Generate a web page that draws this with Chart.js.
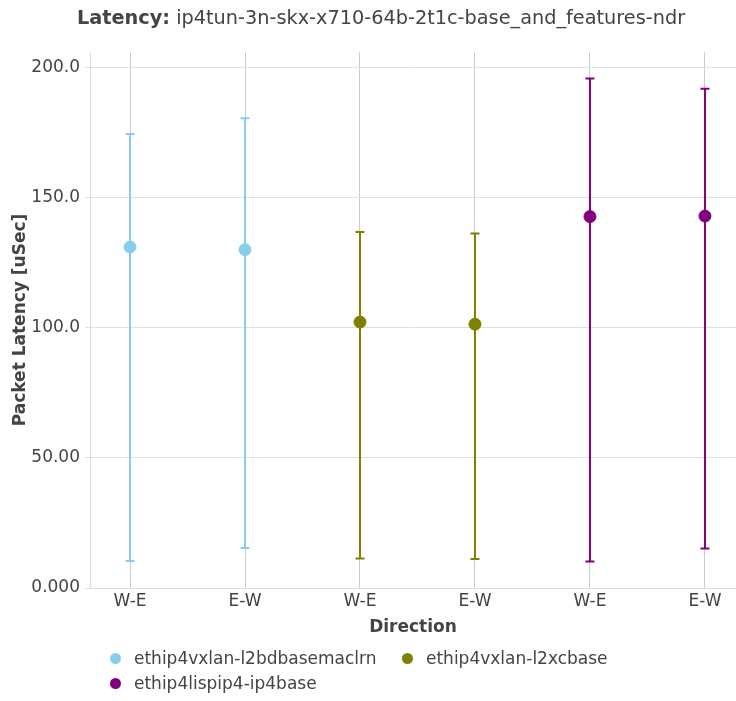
<!DOCTYPE html>
<html>
<head>
<meta charset="utf-8">
<script src="https://cdn.jsdelivr.net/npm/chart.js@4.4.1/dist/chart.umd.min.js"></script>
<style>
  body { margin: 0; background: #fff; font-family: "DejaVu Sans", sans-serif; color: #444; }
  #wrap { position: relative; width: 736px; height: 701px; }
  #chart { position: absolute; left: 0; top: 0; }
  #title { position: absolute; left: 77px; top: 6px; font-size: 19.3px; white-space: nowrap; }
  #legend { position: absolute; left: 110px; top: 648px; width: 620px; font-size: 17px; }
  .item { position: absolute; white-space: nowrap; }
  .dot { display: inline-block; width: 11px; height: 11px; border-radius: 50%; vertical-align: 0px; margin-right: 13px; }
</style>
</head>
<body>
<div id="wrap">
  <canvas id="chart" width="736" height="701"></canvas>
  <div id="title"><b>Latency:</b> ip4tun-3n-skx-x710-64b-2t1c-base_and_features-ndr</div>
  <div id="legend"></div>
</div>
<script>
// categories / ticks
const directions = ['W-E', 'E-W', 'W-E', 'E-W', 'W-E', 'E-W'];
const yTickVals = [0, 50, 100, 150, 200];
const yTickText = ['0.000', '50.00', '100.0', '150.0', '200.0'];

// series
const seriesNames = ['ethip4vxlan-l2bdbasemaclrn', 'ethip4vxlan-l2xcbase', 'ethip4lispip4-ip4base'];
const seriesColors = ['#87ceeb', '#808000', '#800080'];
const seriesPos = [[0, 1], [2, 3], [4, 5]];

const avgL2bd = [130.9, 129.9];
const minL2bd = [10.4, 15.4];
const maxL2bd = [174.3, 180.4];

const avgL2xc = [102.1, 101.3];
const minL2xc = [11.3, 11.1];
const maxL2xc = [136.7, 136.1];

const avgLisp = [142.6, 142.8];
const minLisp = [10.2, 15.2];
const maxLisp = [195.6, 191.7];

const avgs = [avgL2bd, avgL2xc, avgLisp];
const mins = [minL2bd, minL2xc, minLisp];
const maxs = [maxL2bd, maxL2xc, maxLisp];

const datasets = seriesNames.map((name, i) => ({
  label: name,
  data: seriesPos[i].map((x, j) => ({ x: x, y: avgs[i][j], yMin: mins[i][j], yMax: maxs[i][j] })),
  borderColor: seriesColors[i],
  backgroundColor: seriesColors[i],
  pointRadius: 6,
  pointHoverRadius: 6,
  showLine: false
}));

// vertical error bars with caps
const errorBars = {
  id: 'errorBars',
  beforeDatasetsDraw(chart) {
    const { ctx, scales: { x, y } } = chart;
    chart.data.datasets.forEach(ds => {
      ctx.save();
      ctx.strokeStyle = ds.borderColor;
      ctx.lineWidth = 2;
      ds.data.forEach(p => {
        const px = x.getPixelForValue(p.x);
        const top = y.getPixelForValue(p.yMax);
        const bot = y.getPixelForValue(p.yMin);
        ctx.beginPath();
        ctx.moveTo(px, top); ctx.lineTo(px, bot);
        ctx.moveTo(px - 4.5, top); ctx.lineTo(px + 4.5, top);
        ctx.moveTo(px - 4.5, bot); ctx.lineTo(px + 4.5, bot);
        ctx.stroke();
      });
      ctx.restore();
    });
  }
};

Chart.defaults.font.family = '"DejaVu Sans", sans-serif';
Chart.defaults.color = '#444';

const chart = new Chart(document.getElementById('chart').getContext('2d'), {
  type: 'scatter',
  data: { datasets: datasets },
  plugins: [errorBars],
  options: {
    responsive: false,
    animation: false,
    layout: { autoPadding: false, padding: { top: 52, right: 0, bottom: 63, left: 0 } },
    plugins: {
      legend: { display: false },
      title: { display: false },
      tooltip: { enabled: false }
    },
    scales: {
      x: {
        type: 'linear',
        min: -0.348,
        max: 5.27,
        afterBuildTicks: s => { s.ticks = directions.map((d, i) => ({ value: i })); },
        afterFit: s => { s.height = 50; s.paddingLeft = 0; s.paddingRight = 0; },
        ticks: {
          font: { size: 17 },
          padding: 3,
          maxRotation: 0,
          autoSkip: false,
          callback: v => directions[v]
        },
        grid: { color: '#cccccc', drawTicks: false },
        border: { color: '#dddddd' },
        title: { display: true, text: 'Direction', font: { size: 17, weight: 'bold' }, padding: { top: 0, bottom: 0 } }
      },
      y: {
        min: 0,
        max: 205.8,
        afterBuildTicks: s => { s.ticks = yTickVals.map(v => ({ value: v })); },
        afterFit: s => { s.width = 90; s.paddingTop = 0; s.paddingBottom = 0; },
        ticks: {
          font: { size: 17 },
          padding: 5,
          callback: v => yTickText[yTickVals.indexOf(v)]
        },
        grid: { color: '#e0e0e0', tickLength: 5 },
        border: { color: '#dddddd' },
        title: { display: true, text: 'Packet Latency [uSec]', font: { size: 17, weight: 'bold' }, padding: { top: 10, bottom: 0 } }
      }
    }
  }
});

// legend laid out like the original (two columns, wrapping)
const legendPos = [[0, 0], [292, 0], [0, 25]];
const legendEl = document.getElementById('legend');
chart.data.datasets.forEach((ds, i) => {
  const item = document.createElement('div');
  item.className = 'item';
  item.style.left = legendPos[i][0] + 'px';
  item.style.top = legendPos[i][1] + 'px';
  item.innerHTML = '<span class="dot" style="background:' + ds.backgroundColor + '"></span>' + ds.label;
  legendEl.appendChild(item);
});
</script>
</body>
</html>
